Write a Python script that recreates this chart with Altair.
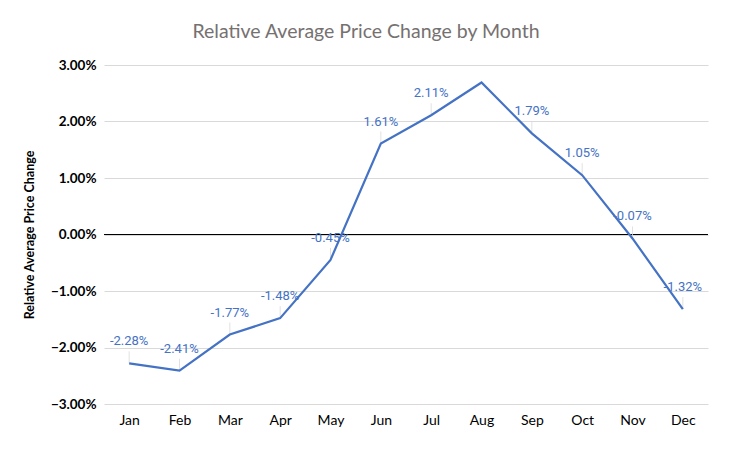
import altair as alt
import pandas as pd

months = ["Jan", "Feb", "Mar", "Apr", "May", "Jun", "Jul", "Aug", "Sep", "Oct", "Nov", "Dec"]
values = [-2.28, -2.41, -1.77, -1.48, -0.45, 1.61, 2.11, 2.69, 1.79, 1.05, -0.07, -1.32]
labels = ["-2.28%", "-2.41%", "-1.77%", "-1.48%", "-0.45%", "1.61%", "2.11%", "", "1.79%", "1.05%", "-0.07%", "-1.32%"]

df = pd.DataFrame({"month": months, "value": [v / 100 for v in values], "label": labels})

x = alt.X("month:N", sort=months, title=None,
          scale=alt.Scale(type="point", padding=0.5),
          axis=alt.Axis(labelAngle=0, ticks=False, domain=False, grid=False,
                        labelFont="Lato", labelFontSize=14, labelColor="#000000",
                        labelPadding=9))
y = alt.Y("value:Q", title="Relative Average Price Change",
          scale=alt.Scale(domain=[-0.03, 0.03], nice=False),
          axis=alt.Axis(format=".2%", values=[-0.03, -0.02, -0.01, 0, 0.01, 0.02, 0.03],
                        ticks=False, domain=False, gridColor="#d9d9d9", gridWidth=1,
                        labelFont="Lato", labelFontSize=13.5, labelColor="#000000",
                        labelFontWeight="bold", labelPadding=8,
                        titleFont="Lato", titleFontSize=12.5, titleFontWeight="bold",
                        titleColor="#000000", titlePadding=14))

base = alt.Chart(df)

zero = alt.Chart(pd.DataFrame({"z": [0]})).mark_rule(color="#000000", strokeWidth=1).encode(
    y=alt.Y("z:Q", scale=alt.Scale(domain=[-0.03, 0.03], nice=False)))

line = base.mark_line(color="#4472C4", strokeWidth=2.2).encode(x=x, y=y)

leaders = base.transform_filter("datum.label != ''").mark_rule(
    color="#d9d9d9", strokeWidth=0.8, y2Offset=-12).encode(x=x, y=y, y2="value:Q")

text = base.transform_filter("datum.label != ''").mark_text(
    font="Roboto", fontSize=13, color="#4472C4", dy=-22).encode(x=x, y=y, text="label:N")

chart = alt.layer(zero, leaders, line, text).properties(
    width=604, height=339,
    background="white",
    autosize=alt.AutoSizeParams(type="none"),
    title=alt.TitleParams("Relative Average Price Change by Month", font="Lato",
                          fontSize=19.5, fontWeight="normal", color="#767171",
                          anchor="middle", dx=-40, offset=16),
    padding={"left": 96, "top": 57, "right": 10, "bottom": 40},
).configure_view(strokeOpacity=0, strokeWidth=0)

chart.save("out.html", embed_options={"renderer": "svg", "actions": False})
